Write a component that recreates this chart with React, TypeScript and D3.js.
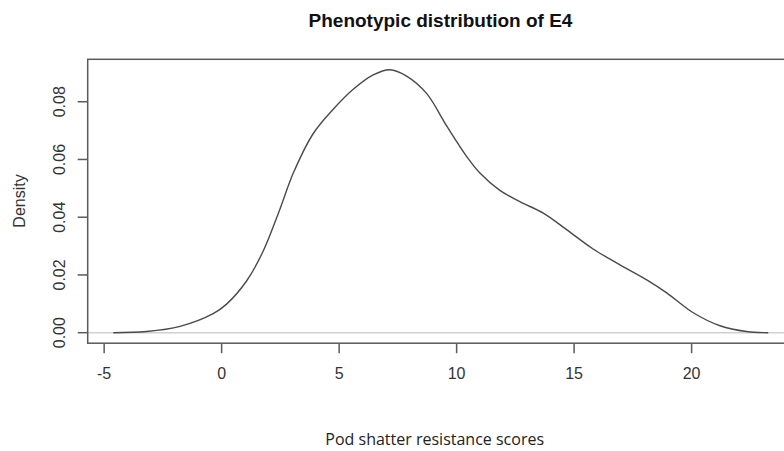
import React from "react";
import * as d3 from "d3";

const title = "Phenotypic distribution of E4";
const xLabel = "Pod shatter resistance scores";
const yLabel = "Density";

const scores = [-4.61, -3.19, -1.77, -0.36, 0.21, 1.06, 1.77, 2.48, 3.05, 3.9, 4.75, 5.6, 6.45, 7.16, 7.87, 8.72, 9.57, 10.42, 10.99, 11.84, 12.69, 13.69, 14.68, 15.81, 16.95, 18.09, 18.94, 20.07, 21.21, 22.34, 23.26];
const densities = [0.0, 0.0004, 0.0022, 0.0066, 0.0099, 0.0179, 0.0283, 0.0428, 0.0553, 0.069, 0.0774, 0.0843, 0.0893, 0.0911, 0.0889, 0.0829, 0.0717, 0.0611, 0.0553, 0.0493, 0.0454, 0.0414, 0.0357, 0.029, 0.0235, 0.0183, 0.0138, 0.0069, 0.0024, 0.0004, 0.0];

const xTicks = [-5, 0, 5, 10, 15, 20];
const yTicks = [0, 0.02, 0.04, 0.06, 0.08];

const W = 784;
const H = 451;
const box = { left: 87.7, right: 795, top: 59.3, bottom: 343.2 };
const xDomain = [-5.7, 24.4];
const yDomain = [-0.00364, 0.0947];

export default function App() {
  const x = d3.scaleLinear().domain(xDomain).range([box.left, box.right]);
  const y = d3.scaleLinear().domain(yDomain).range([box.bottom, box.top]);
  const pts: [number, number][] = scores.map((s, i) => [s, densities[i]]);
  const line = d3
    .line<[number, number]>()
    .x((d) => x(d[0]))
    .y((d) => y(d[1]))
    .curve(d3.curveCatmullRom.alpha(0.5));
  const axisColor = "#5a5a5a";
  const textColor = "#333";
  const font = "'Liberation Sans', Arial, sans-serif";
  return (
    <svg
      width={W}
      height={H}
      style={{ position: "absolute", left: 0, top: 0, background: "#fff" }}
      fontFamily={font}
    >
      <rect x={0} y={0} width={W} height={H} fill="#fff" />
      <text x={440.5} y={27} textAnchor="middle" fontSize={19} fontWeight="bold" fill="#111">
        {title}
      </text>
      <line x1={box.left} x2={box.right} y1={y(0)} y2={y(0)} stroke="#d0d0d0" strokeWidth={1.5} />
      <path d={line(pts) || ""} fill="none" stroke="#4a4a4a" strokeWidth={1.4} />
      <rect
        x={box.left}
        y={box.top}
        width={box.right - box.left}
        height={box.bottom - box.top}
        fill="none"
        stroke={axisColor}
        strokeWidth={1.5}
      />
      {xTicks.map((t) => (
        <g key={"x" + t}>
          <line x1={x(t)} x2={x(t)} y1={box.bottom} y2={box.bottom + 10} stroke={axisColor} strokeWidth={1.5} />
          <text x={x(t)} y={379} textAnchor="middle" fontSize={16} fill={textColor}>
            {t}
          </text>
        </g>
      ))}
      {yTicks.map((t) => (
        <g key={"y" + t}>
          <line x1={box.left - 10} x2={box.left} y1={y(t)} y2={y(t)} stroke={axisColor} strokeWidth={1.5} />
          <text
            transform={`translate(65,${y(t)}) rotate(-90)`}
            textAnchor="middle"
            fontSize={16}
            fill={textColor}
          >
            {t.toFixed(2)}
          </text>
        </g>
      ))}
      <text transform={`translate(25,201) rotate(-90)`} textAnchor="middle" fontSize={16} fill={textColor}>
        {yLabel}
      </text>
      <text x={434.7} y={445} textAnchor="middle" fontSize={16} fill="#222" fontFamily="'Open Sans', sans-serif">
        {xLabel}
      </text>
    </svg>
  );
}
